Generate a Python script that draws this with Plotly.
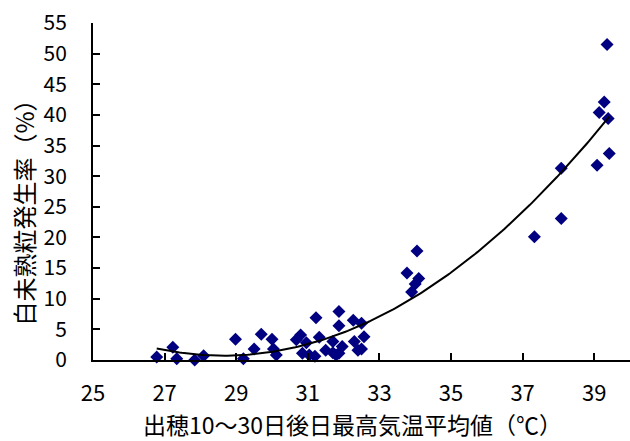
import numpy as np
import plotly.graph_objects as go

# Mean daily max temperature 10-30 days after heading (°C)
temp = [26.78, 27.23, 27.34, 27.84, 28.09, 28.98, 29.2, 29.5, 29.7, 30.0,
        30.04, 30.12, 30.68, 30.8, 30.85, 30.96, 31.04, 31.2, 31.23, 31.32,
        31.5, 31.7, 31.7, 31.87, 31.87, 31.87, 31.96, 32.27, 32.3, 32.4,
        32.5, 32.57, 32.5, 31.79, 33.77, 34.05, 34.1, 34.0, 33.9, 37.33,
        38.08, 38.08, 39.08, 39.14, 39.28, 39.36, 39.39, 39.42]
# Occurrence rate of chalky grains (%)
rate = [0.5, 2.1, 0.2, 0.0, 0.7, 3.4, 0.2, 1.8, 4.2, 3.4,
        1.8, 0.8, 3.3, 4.1, 1.1, 2.8, 0.8, 0.6, 6.9, 3.7,
        1.6, 1.2, 3.0, 7.9, 5.6, 1.1, 2.2, 6.5, 3.0, 1.6,
        6.0, 3.8, 1.8, 0.8, 14.2, 17.8, 13.3, 12.4, 11.1, 20.1,
        31.3, 23.1, 31.8, 40.4, 42.1, 51.5, 39.4, 33.7]

x_ticks = [25, 27, 29, 31, 33, 35, 37, 39]
y_ticks = [0, 5, 10, 15, 20, 25, 30, 35, 40, 45, 50, 55]

x_title = "出穂10～30日後日最高気温平均値（℃）"
y_title = "白未熟粒発生率（%）"

# 2nd-order polynomial trend line fitted to the data
coef = np.polyfit(temp, rate, 2)
tx = np.linspace(min(temp), max(temp), 200)
ty = np.polyval(coef, tx)

FONT = "Noto Sans CJK JP"
W, H = 630, 441
L, R, T, B = 93, 0, 23, 81

fig = go.Figure()
fig.add_trace(go.Scatter(x=temp, y=rate, mode="markers",
                         marker=dict(symbol="diamond", size=10, color="#000080",
                                     line=dict(width=0)),
                         cliponaxis=False, showlegend=False, hoverinfo="skip"))
fig.add_trace(go.Scatter(x=tx, y=ty, mode="lines",
                         line=dict(color="black", width=2),
                         cliponaxis=False, showlegend=False, hoverinfo="skip"))

fig.update_layout(
    width=W, height=H,
    margin=dict(l=L, r=R, t=T, b=B),
    paper_bgcolor="white", plot_bgcolor="white",
    font=dict(family=FONT, size=22, color="black"),
    xaxis=dict(range=[25, 40], tickmode="array", tickvals=x_ticks,
               ticks="inside", ticklen=7, tickwidth=2, tickcolor="black",
               showline=True, linecolor="black", linewidth=2,
               showgrid=False, zeroline=False,
               tickfont=dict(family=FONT, size=22, color="black"),
               ticklabelstandoff=13),
    yaxis=dict(range=[0, 55], tickmode="array", tickvals=y_ticks,
               ticks="inside", ticklen=7, tickwidth=2, tickcolor="black",
               showline=True, linecolor="black", linewidth=2,
               showgrid=False, zeroline=False,
               tickfont=dict(family=FONT, size=21, color="black"),
               ticklabelstandoff=20),
    annotations=[
        dict(text=x_title, xref="paper", yref="paper",
             x=(352 - L) / (W - L), y=(360 - 423.5) / 336,
             xanchor="center", yanchor="middle", showarrow=False,
             font=dict(family=FONT, size=23, color="black")),
        dict(text=y_title, xref="paper", yref="paper",
             x=(24 - L) / (W - L), y=(360 - 207) / 336,
             xanchor="center", yanchor="middle", showarrow=False, textangle=-90,
             font=dict(family=FONT, size=24, color="black")),
    ],
)

fig.write_html("out.html", config={"displayModeBar": False},
               post_script="document.body.style.margin='0';document.body.style.overflow='hidden';")
